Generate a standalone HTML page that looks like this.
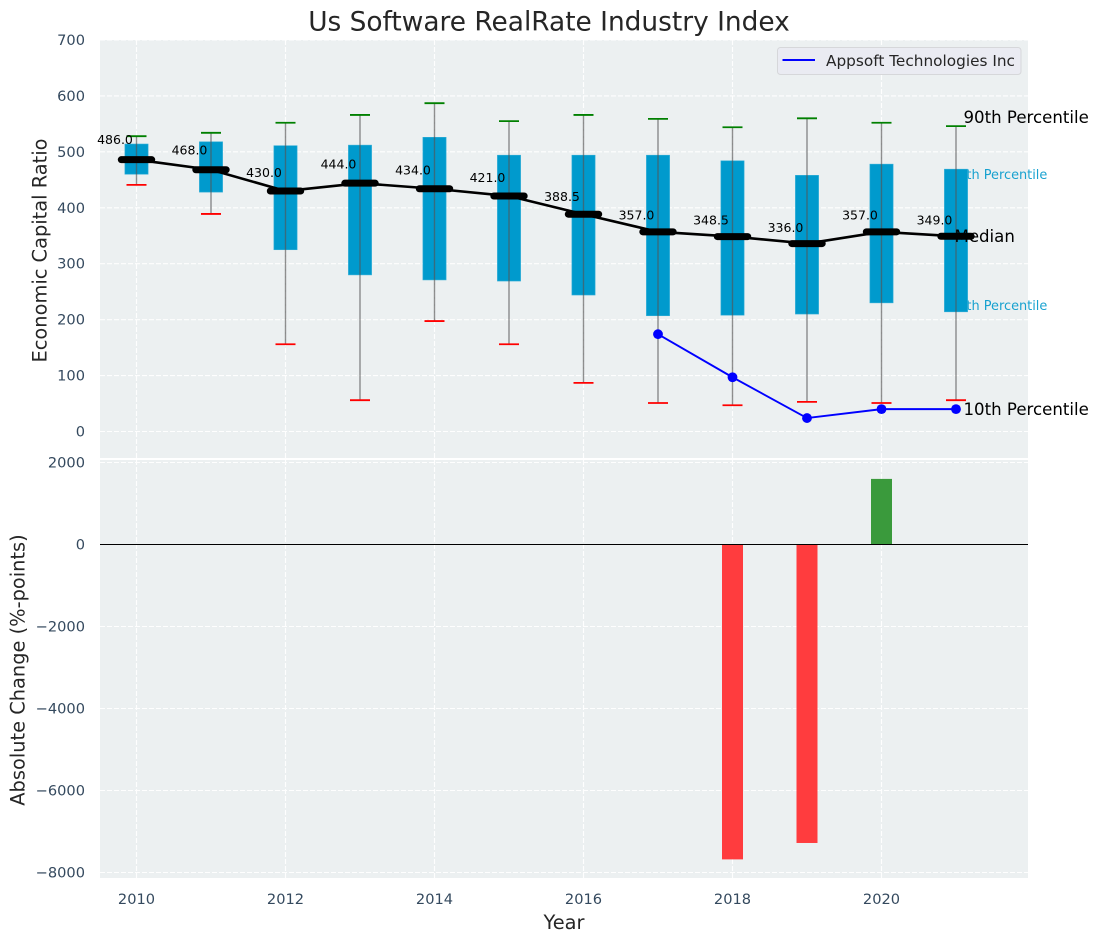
<!DOCTYPE html>
<html>
<head>
<meta charset="utf-8">
<title>Us Software RealRate Industry Index</title>
<style>
html,body{margin:0;padding:0;background:#fff;}
svg{display:block;font-family:"DejaVu Sans","Liberation Sans",sans-serif;}
</style>
</head>
<body>
<svg id="chart" xmlns="http://www.w3.org/2000/svg" width="1098" height="942" viewBox="0 0 1098 942"></svg>
<script>
const years = [2010,2011,2012,2013,2014,2015,2016,2017,2018,2019,2020,2021];
const p90 = [528,534,552,566,587,555,566,559,544,560,552,546];
const q3 = [514,518,511,512,526,494,494,494,484,458,478,469];
const medians = [486,468,430,444,434,421,388.5,357,348.5,336,357,349];
const q1 = [460,428,325,280,271,269,244,207,208,210,230,214];
const p10 = [441,389,156,56,197.5,156,87,51,47,53,51,56];
const companyYears = [2017,2018,2019,2020,2021];
const companyValues = [174,97,24,40,40];
const changeYears = [2018,2019,2020];
const changeValues = [-7680,-7280,1600];
const topTicks = [0,100,200,300,400,500,600,700];
const bottomTicks = [2000,0,-2000,-4000,-6000,-8000];
const xTicks = [2010,2012,2014,2016,2018,2020];

const NS = 'http://www.w3.org/2000/svg';
const svg = document.getElementById('chart');
const L = 100, R = 1028, T1 = 40, B1 = 458, T2 = 460, B2 = 878;
const xs = v => 136.5 + (v - 2010) * 74.5;
const yTop = v => 431.5 - v * 0.5593;
const yBot = v => 544.5 - v * 0.041;

function mk(tag, attrs, text) {
  const e = document.createElementNS(NS, tag);
  for (const k in attrs) e.setAttribute(k, attrs[k]);
  if (text !== undefined) e.textContent = text;
  svg.appendChild(e);
  return e;
}
function fmtTick(v) { return v < 0 ? '\u2212' + Math.abs(v) : String(v); }
const grid = {stroke:'#ffffff','stroke-width':1.1,'stroke-dasharray':'5,2',opacity:0.95};
const tickStyle = {fill:'#34495e','font-size':'14.6px'};
let el;

el = mk('rect',{x:L,y:T1,width:R-L,height:B1-T1,fill:'#ecf0f1'});


el = mk('rect',{x:L,y:T2,width:R-L,height:B2-T2,fill:'#ecf0f1'});



for (const t of topTicks) {
  el = mk('line',{x1:L,x2:R,y1:yTop(t),y2:yTop(t),...grid});
  
  
  el = mk('text',{x:85,y:yTop(t)+5,'text-anchor':'end',...tickStyle},fmtTick(t));
  
  
}
for (const t of bottomTicks) {
  el = mk('line',{x1:L,x2:R,y1:yBot(t),y2:yBot(t),...grid});
  
  
  el = mk('text',{x:85,y:yBot(t)+5,'text-anchor':'end',...tickStyle},fmtTick(t));
  
  
}
for (const t of xTicks) {
  el = mk('line',{x1:xs(t),x2:xs(t),y1:T1,y2:B1,...grid});
  
  
  el = mk('line',{x1:xs(t),x2:xs(t),y1:T2,y2:B2,...grid});
  
  
  el = mk('text',{x:xs(t),y:904,'text-anchor':'middle',...tickStyle},String(t));
  
  
}

const last = years.length - 1;
const lastX = xs(years[last]);
el = mk('text',{x:lastX-6,y:yTop(q3[last])+10,fill:'#0099cc','font-size':'12.9px',opacity:0.9},'75th Percentile');


el = mk('text',{x:lastX-6,y:yTop(q1[last])-2,fill:'#0099cc','font-size':'12.9px',opacity:0.9},'25th Percentile');



years.forEach((yr, i) => {
  const x = xs(yr);
  el = mk('rect',{x:x-11.6,y:yTop(q3[i]),width:23.2,height:yTop(q1[i])-yTop(q3[i]),fill:'#009acd',stroke:'#33aed6','stroke-width':0.6});
  
  
  el = mk('line',{x1:x,x2:x,y1:yTop(p90[i]),y2:yTop(p10[i]),stroke:'#555555','stroke-width':1.4,opacity:0.65});
  
  
  el = mk('line',{x1:x-10,x2:x+10,y1:yTop(p90[i]),y2:yTop(p90[i]),stroke:'#008000','stroke-width':1.8});
  
  
  el = mk('line',{x1:x-10,x2:x+10,y1:yTop(p10[i]),y2:yTop(p10[i]),stroke:'#ff0000','stroke-width':1.8});
  
  
});

el = mk('text',{x:lastX-1.5,y:yTop(medians[last])+5.5,fill:'#000','font-size':'16.6px'},'Median');



el = mk('polyline',{points:years.map((y,i)=>xs(y)+','+yTop(medians[i])).join(' '),fill:'none',stroke:'#000','stroke-width':2.6});


years.forEach((yr, i) => {
  const x = xs(yr), y = yTop(medians[i]);
  el = mk('line',{x1:x-15.2,x2:x+15.2,y1:y,y2:y,stroke:'#000','stroke-width':7,'stroke-linecap':'round'});
  
  
  el = mk('text',{x:x-21.5,y:yTop(medians[i]*1.05+12)+4.5,'text-anchor':'middle',fill:'#000','font-size':'12.5px'},medians[i].toFixed(1));
  
  
});

el = mk('polyline',{points:companyYears.map((y,i)=>xs(y)+','+yTop(companyValues[i])).join(' '),fill:'none',stroke:'#0000ff','stroke-width':1.9});


companyYears.forEach((yr, i) => {
  el = mk('circle',{cx:xs(yr),cy:yTop(companyValues[i]),r:4.9,fill:'#0000ff'});
  
  
});

el = mk('text',{x:lastX+7.5,y:yTop(p90[last])-3,fill:'#000','font-size':'16.6px'},'90th Percentile');


el = mk('text',{x:lastX+7.5,y:yTop(companyValues[4])+6,fill:'#000','font-size':'16.6px'},'10th Percentile');



changeYears.forEach((yr, i) => {
  const v = changeValues[i];
  const y0 = yBot(Math.max(v,0)), y1 = yBot(Math.min(v,0));
  el = mk('rect',{x:xs(yr)-10.5,y:y0,width:21,height:y1-y0,fill:v<0?'#ff3c3e':'#3a9a3c'});
  
  
});
el = mk('line',{x1:L,x2:R,y1:yBot(0),y2:yBot(0),stroke:'#000','stroke-width':1.1});



el = mk('rect',{x:777.5,y:47.5,width:243.5,height:27,rx:3,fill:'#eaebf2',stroke:'#d6d7da','stroke-width':1});


el = mk('line',{x1:782.5,x2:815,y1:60,y2:60,stroke:'#0000ff','stroke-width':1.9});


el = mk('text',{x:826,y:66,fill:'#262626','font-size':'15.3px'},'Appsoft Technologies Inc');



el = mk('text',{x:549,y:30.5,'text-anchor':'middle',fill:'#262626','font-size':'26.4px'},'Us Software RealRate Industry Index');


el = mk('text',{x:564,y:929,'text-anchor':'middle',fill:'#262626','font-size':'19.4px'},'Year');


el = mk('text',{'text-anchor':'middle',transform:'translate(46.5,250.5) rotate(-90)',fill:'#262626','font-size':'19.4px'},'Economic Capital Ratio');


el = mk('text',{'text-anchor':'middle',transform:'translate(24.5,670) rotate(-90)',fill:'#262626','font-size':'19.4px'},'Absolute Change (%-points)');


</script>
</body>
</html>
